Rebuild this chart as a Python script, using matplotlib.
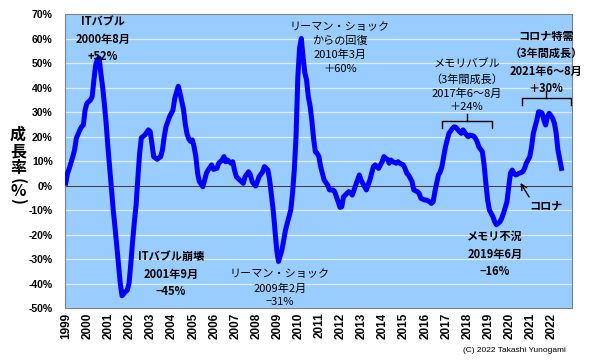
import matplotlib
matplotlib.use("Agg")
import matplotlib.pyplot as plt

# fonts: latin digits like Arial, Japanese from Noto CJK
plt.rcParams['font.family'] = ['Liberation Sans', 'Noto Sans CJK JP', 'DejaVu Sans']
JP = ['Noto Sans CJK JP', 'DejaVu Sans']

# monthly growth rate (%)
months = [
    "1999-01", "1999-02", "1999-03", "1999-05", "1999-06", "1999-07", "1999-09", "1999-10", "1999-11", "1999-12",
    "2000-01", "2000-03", "2000-04", "2000-05", "2000-06", "2000-07", "2000-08", "2000-09", "2000-10", "2000-11", "2000-12",
    "2001-01", "2001-02", "2001-03", "2001-04", "2001-05", "2001-06", "2001-07", "2001-08", "2001-09", "2001-11", "2001-12",
    "2002-01", "2002-02", "2002-03", "2002-04", "2002-05", "2002-06", "2002-07", "2002-08", "2002-10", "2002-12",
    "2003-01", "2003-02", "2003-03", "2003-05", "2003-07", "2003-08", "2003-09", "2003-10", "2003-11", "2003-12",
    "2004-02", "2004-03", "2004-05", "2004-06", "2004-08", "2004-09", "2004-10", "2004-11", "2004-12",
    "2005-01", "2005-02", "2005-03", "2005-04", "2005-05", "2005-07", "2005-08", "2005-09", "2005-10", "2005-12",
    "2006-01", "2006-03", "2006-04", "2006-06", "2006-07", "2006-08", "2006-09", "2006-11", "2006-12",
    "2007-01", "2007-02", "2007-04", "2007-05", "2007-06", "2007-07", "2007-09", "2007-10", "2007-11",
    "2008-01", "2008-02", "2008-03", "2008-05", "2008-06", "2008-08", "2008-09", "2008-10", "2008-11", "2008-12",
    "2009-01", "2009-02", "2009-04", "2009-05", "2009-06", "2009-07", "2009-09", "2009-10", "2009-11", "2009-12",
    "2010-01", "2010-02", "2010-03", "2010-04", "2010-05", "2010-06", "2010-07", "2010-08", "2010-09", "2010-10",
    "2010-11", "2010-12",
    "2011-01", "2011-02", "2011-03", "2011-04", "2011-06", "2011-07", "2011-09", "2011-10", "2011-11",
    "2012-01", "2012-02", "2012-03", "2012-04", "2012-06", "2012-07", "2012-08", "2012-09", "2012-11", "2012-12",
    "2013-01", "2013-03", "2013-04", "2013-05", "2013-06", "2013-07", "2013-08", "2013-09", "2013-11", "2013-12",
    "2014-01", "2014-02", "2014-03", "2014-04", "2014-05", "2014-06", "2014-07", "2014-09", "2014-10", "2014-11",
    "2015-01", "2015-02", "2015-03", "2015-04", "2015-06", "2015-07", "2015-09", "2015-10", "2015-11",
    "2016-01", "2016-02", "2016-04", "2016-05", "2016-06", "2016-07", "2016-08", "2016-09", "2016-10", "2016-11",
    "2016-12",
    "2017-01", "2017-02", "2017-03", "2017-05", "2017-06", "2017-07", "2017-09", "2017-10", "2017-11",
    "2018-01", "2018-02", "2018-03", "2018-05", "2018-06", "2018-07", "2018-08", "2018-10", "2018-11", "2018-12",
    "2019-01", "2019-02", "2019-04", "2019-05", "2019-06", "2019-08", "2019-09", "2019-10", "2019-12",
    "2020-01", "2020-02", "2020-03", "2020-04", "2020-05", "2020-07", "2020-09", "2020-10", "2020-11",
    "2021-01", "2021-02", "2021-03", "2021-05", "2021-06", "2021-07", "2021-08", "2021-09", "2021-10", "2021-11",
    "2021-12",
    "2022-02", "2022-03", "2022-04", "2022-05", "2022-07",
]
growth = [
    1, 5, 7, 11.8, 14.5, 19.3, 22.7, 24, 24.7, 30.8,
    33.5, 34.9, 36.2, 43, 49.2, 51.5, 52, 45.5, 40, 33, 25,
    15.5, 7, -1, -10, -17, -24.5, -32.5, -40, -45, -43.3, -42.7,
    -39.9, -31.8, -23, -15, -8, 3, 13.1, 19.5, 20.6, 22.7,
    22, 17.2, 11.8, 10.7, 11.8, 14.5, 19.9, 24, 26, 28,
    30.8, 35.6, 40.5, 37.6, 31, 25, 21, 19, 18,
    18.6, 15.8, 11.8, 5, 1.6, -0.5, 2.2, 5, 6.3, 8.4,
    6.6, 7, 9.1, 10.4, 11.8, 9.7, 10.4, 9.1, 9.7,
    6.3, 3.6, 2.2, 1.6, 0.9, 3.6, 5.6, 4.3, 1.6,
    -0.2, 1.6, 3.6, 5.6, 7.7, 6.3, 2.2, -3.9, -10, -18.2,
    -26.3, -31, -26.3, -22.2, -18.2, -15.4, -10, -3.2, 6.3, 19.9,
    44, 56, 60, 52.5, 46, 43, 36.2, 32.5, 26.5, 19,
    13.8, 13.1,
    11.8, 7.7, 5, 2.2, 0.2, -1.8, -1.8, -2.5, -4.6,
    -8.9, -8.7, -4.6, -3.9, -2.5, -2.9, -3.9, -1.8, 2.2, 4.3,
    2.2, -0.5, -1.8, 0.2, 2.2, 5, 7.7, 8.4, 7, 8.4,
    9.7, 11.8, 11.1, 10.7, 9.1, 10.4, 9.7, 9.1, 9.7, 9.1,
    8.4, 7, 5, 4.3, 1.6, -1.8, -2.5, -3.2, -5.2,
    -5.9, -5.9, -6.6, -7.3, -6.6, -2.5, 0.9, 4.3, 5.5, 7.7,
    11.8,
    15.8, 18.6, 21.3, 23.3, 24, 23.7, 22, 21.3, 22.7,
    20.6, 19.9, 20.6, 20.2, 19.3, 17.9, 15.8, 13.8, 8.4, 0.9,
    -5.9, -10, -12.7, -14.8, -16, -14.8, -13.4, -11.4, -6.6,
    -0.5, 5, 6.3, 5, 4.3, 5, 5.6, 7, 9.1,
    11.8, 15.8, 21.3, 26.7, 30.1, 30, 29.5, 26.7, 24.7, 28,
    29.5,
    27.4, 25.4, 21.3, 14.5, 7,
]

years = list(range(1999, 2023))
y_ticks = list(range(-50, 80, 10))

# event labels: (text, x, y, weight)
events = [
    ("ITバブル\n2000年8月\n+52%", 2000.76, 59.7, "bold"),
    ("ITバブル崩壊\n2001年9月\n−45%", 2003.98, -36.2, "bold"),
    ("リーマン・ショック\n2009年2月\n−31%", 2009.15, -42.0, "normal"),
    ("リーマン・ショック\nからの回復\n2010年3月\n＋60%", 2012.0, 56.2, "normal"),
    ("メモリバブル\n（3年間成長）\n2017年6～8月\n＋24%", 2018.01, 40.6, "normal"),
    ("コロナ特需\n（3年間成長）\n2021年6～8月\n＋30%", 2021.76, 50.3, "bold"),
    ("メモリ不況\n2019年6月\n−16%", 2019.34, -28.0, "bold"),
]
# brackets: (start, end, middle, level)
brackets = [
    (2016.86, 2019.23, 2018.04, 26.4),
    (2020.61, 2022.94, 2021.79, 35.8),
]

x = [int(s[:4]) + (int(s[5:]) - 1) / 12 for s in months]

fig = plt.figure(figsize=(5.9, 3.6), dpi=100)
ax = fig.add_axes([0.1097, 0.1444, 0.8598, 0.8167])
ax.set_facecolor('#99CCFF')
ax.set_axisbelow(True)
ax.yaxis.grid(True, color='#DCEEFF', lw=0.9)
ax.axhline(0, color='#404040', lw=0.8, zorder=1)

ax.plot(x, growth, color='#0000FF', lw=3.6, solid_joinstyle='round', zorder=3)

ax.set_xlim(1998.95, 2023.0)
ax.set_ylim(-50, 70)
ax.set_yticks(y_ticks)
ax.set_yticklabels([f"{v}%" for v in y_ticks], fontsize=7.5, fontweight='bold')
ax.set_xticks([yr + 0.04 for yr in years])
ax.set_xticklabels([str(yr) for yr in years], rotation=90, fontsize=8.5,
                   fontweight='bold', va='top')
ax.tick_params(axis='y', length=0, pad=8.6)
ax.tick_params(axis='x', length=0, pad=3.4)
for sp in ax.spines.values():
    sp.set_color('#808080')
    sp.set_linewidth(0.8)

for txt, tx, ty, w in events:
    ax.text(tx, ty, txt, ha='center', va='center', fontsize=8, family=JP,
            fontweight=w, linespacing=1.45, zorder=5)

for b0, b1, bm, lvl in brackets:
    ax.plot([b0, b0, b1, b1], [lvl - 2.9, lvl, lvl, lvl - 2.9], color='black', lw=1, zorder=4)
    ax.plot([bm, bm], [lvl, lvl + 2.8], color='black', lw=1, zorder=4)

ax.text(2021.76, -8.4, "コロナ", ha='center', va='center', fontsize=8, family=JP,
        fontweight='bold')
ax.annotate("", xy=(2020.49, 2.0), xytext=(2021.03, -5.6),
            arrowprops=dict(arrowstyle='->', color='black', lw=1))

# vertical axis title, written top to bottom; brackets turned sideways
for ch, fy, rot in zip(["成", "長", "率", "(", "%", ")"],
                       [135, 151.7, 167.5, 180.5, 191, 201.5],
                       [0, 0, 0, -90, 0, -90]):
    fig.text(18 / 590, 1 - fy / 360, ch, ha='center', va='center', fontsize=11.5,
             fontweight='bold', family=JP, rotation=rot)

fig.text(566 / 590, 1 - 350 / 360, "(C) 2022 Takashi Yunogami", ha='right', va='center',
         fontsize=6, family=['Liberation Sans Narrow', 'Liberation Sans'])

fig.savefig("out.png", dpi=100)
